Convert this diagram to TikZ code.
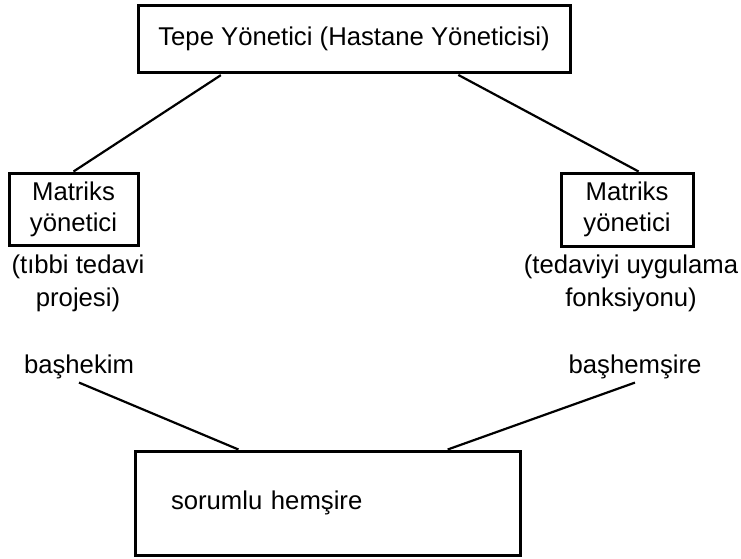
\documentclass[tikz,border=0pt]{standalone}
\usepackage{fontspec}
\setmainfont{Liberation Sans}
\begin{document}
\begin{tikzpicture}[x=1pt,y=-1pt]
        \useasboundingbox (0,0) rectangle (741,558);

        \begin{scope}[every node/.style={draw, line width=3pt, align=center, font=\fontsize{25.7}{31}\selectfont}]
          \node (tepe) [minimum width=432pt, minimum height=67pt] at (354,38.5) {Tepe Yönetici (Hastane Yöneticisi)};
          \node (matris1) [minimum width=129pt, minimum height=72pt] at (73.5,209) {Matriks\\yönetici};
          \node (matris2) [minimum width=132pt, minimum height=73pt] at (627,209.5) {Matriks\\yönetici};
          \node (sorumlu) [minimum width=385pt, minimum height=104pt, text width=313pt, inner xsep=36pt, align=left] at (327.5,503) {sorumlu hemşire};
        \end{scope}

        \begin{scope}[every node/.style={align=center, font=\fontsize{25.7}{33}\selectfont}]
          \node (proje) at (78,283) {(tıbbi tedavi\\projesi)};
          \node (fonks) at (631,283) {(tedaviyi uygulama\\fonksiyonu)};
          \node (bashekim) at (79,367) {başhekim};
          \node (bashemsire) at (635,367) {başhemşire};
        \end{scope}

        \begin{scope}[every edge/.style={draw, line width=2.2pt}]
          \path (tepe.195.5) edge[shorten <=3pt] (matris1.north);
          \path (tepe.-19.6) edge[shorten <=3pt] (matris2.73);
          \path (bashekim.south) edge (sorumlu.149.8);
          \path (bashemsire.south) edge (sorumlu.24.9);
        \end{scope}

\end{tikzpicture}
\end{document}
